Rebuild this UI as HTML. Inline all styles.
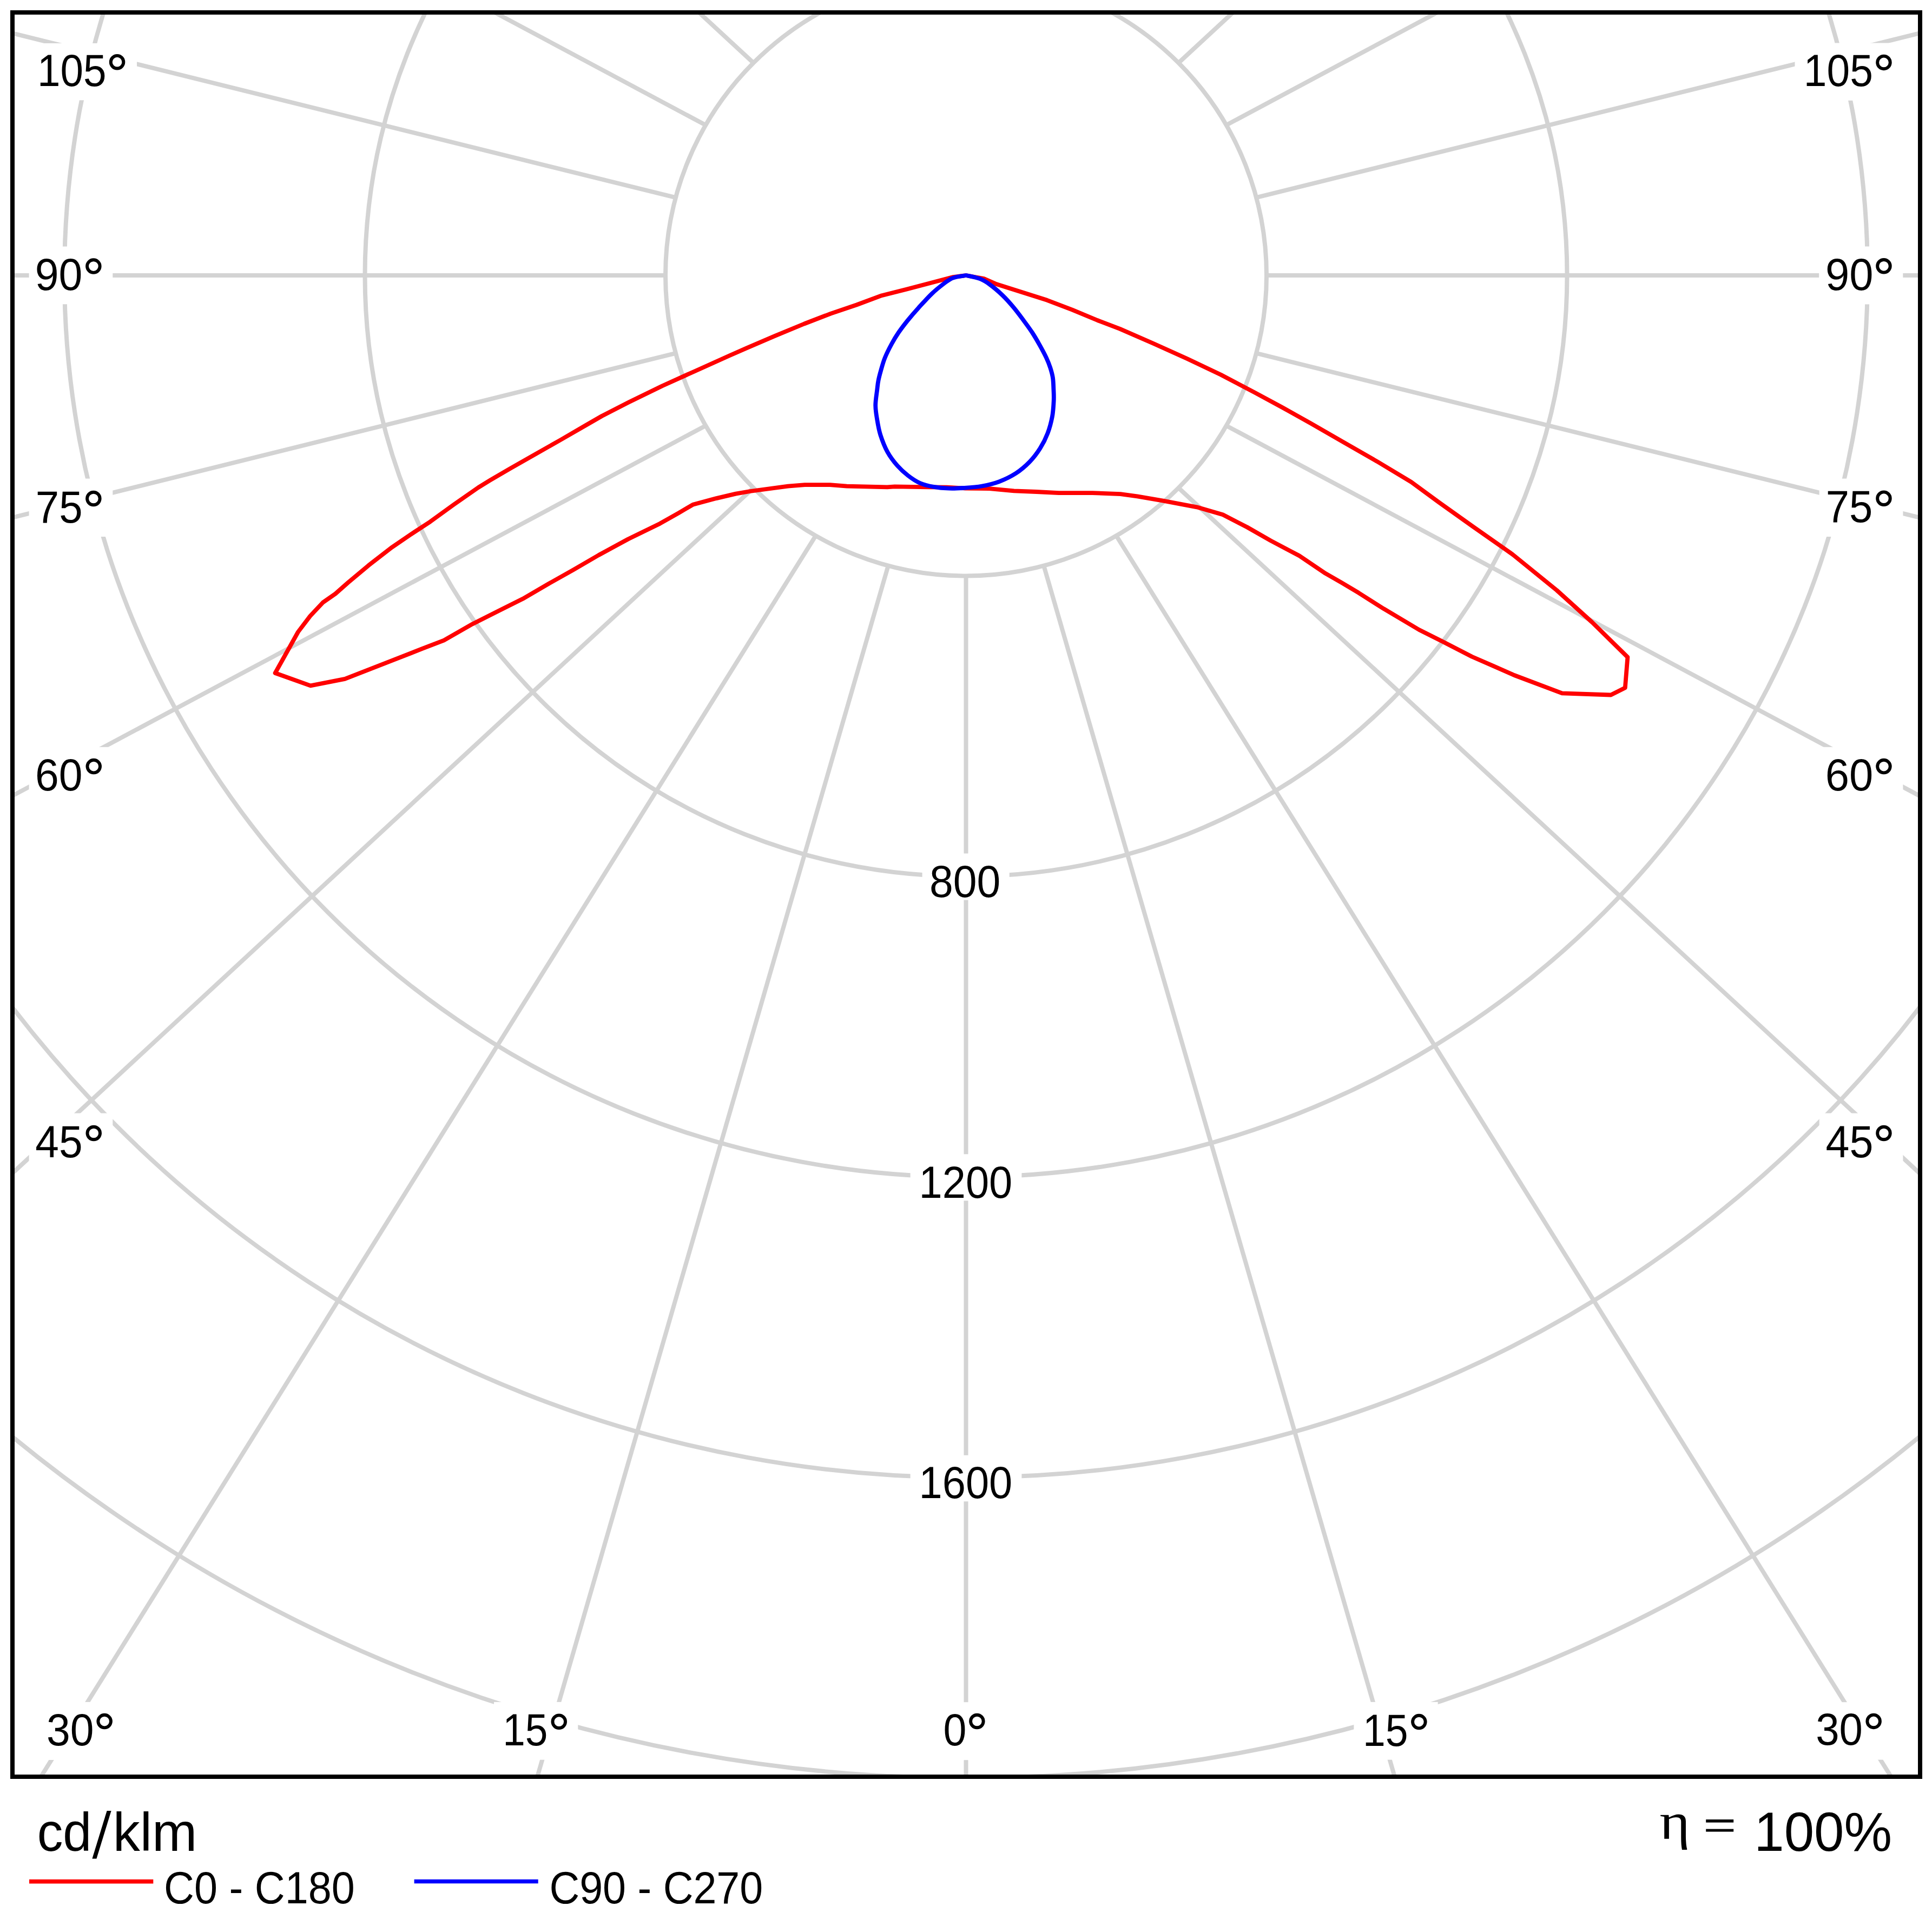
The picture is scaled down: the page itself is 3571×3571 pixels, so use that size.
<!DOCTYPE html><html><head><meta charset="utf-8"><style>html,body{margin:0;padding:0;background:#fff;overflow:hidden}svg{display:block}text{fill:#000}</style></head><body>
<svg width="3571" height="3571" viewBox="0 0 3571 3571">
<rect x="0" y="0" width="3571" height="3571" fill="#fff"/>
<defs><clipPath id="c"><rect x="27" y="27" width="3518" height="3254"/></clipPath></defs>
<g clip-path="url(#c)" fill="none" stroke="#d3d3d3" stroke-width="8">
<line x1="1785.50" y1="1064.50" x2="1785.50" y2="5688.50"/>
<line x1="1929.27" y1="1045.57" x2="3223.37" y2="5512.01"/>
<line x1="1641.73" y1="1045.57" x2="347.63" y2="5512.01"/>
<line x1="2063.25" y1="990.08" x2="4563.25" y2="4994.58"/>
<line x1="1507.75" y1="990.08" x2="-992.25" y2="4994.58"/>
<line x1="2178.30" y1="901.80" x2="5713.83" y2="4171.46"/>
<line x1="1392.70" y1="901.80" x2="-2142.83" y2="4171.46"/>
<line x1="2266.58" y1="786.75" x2="6596.70" y2="3098.75"/>
<line x1="1304.42" y1="786.75" x2="-3025.70" y2="3098.75"/>
<line x1="2322.07" y1="652.77" x2="7151.70" y2="1849.55"/>
<line x1="1248.93" y1="652.77" x2="-3580.70" y2="1849.55"/>
<line x1="2341.00" y1="509.00" x2="7341.00" y2="509.00"/>
<line x1="1230.00" y1="509.00" x2="-3770.00" y2="509.00"/>
<line x1="2322.07" y1="365.23" x2="7151.70" y2="-831.55"/>
<line x1="1248.93" y1="365.23" x2="-3580.70" y2="-831.55"/>
<line x1="2266.58" y1="231.25" x2="6596.70" y2="-2080.75"/>
<line x1="1304.42" y1="231.25" x2="-3025.70" y2="-2080.75"/>
<line x1="2178.30" y1="116.20" x2="5713.83" y2="-3153.46"/>
<line x1="1392.70" y1="116.20" x2="-2142.83" y2="-3153.46"/>
<circle cx="1785.5" cy="509.0" r="555.50"/>
<circle cx="1785.5" cy="509.0" r="1111.00"/>
<circle cx="1785.5" cy="509.0" r="1666.50"/>
<circle cx="1785.5" cy="509.0" r="2222.00"/>
<circle cx="1785.5" cy="509.0" r="2777.50"/>
</g>
<g fill="#fff">
<rect x="53.6" y="80.0" width="199.4" height="105.3"/>
<rect x="53.6" y="455.6" width="154.7" height="106.7"/>
<rect x="53.6" y="884.6" width="154.7" height="107.4"/>
<rect x="53.6" y="1380.8" width="154.7" height="107.2"/>
<rect x="53.6" y="2057.6" width="154.7" height="107.0"/>
<rect x="74.2" y="3145.9" width="154.7" height="107.1"/>
<rect x="913.0" y="3145.9" width="155.3" height="106.8"/>
<rect x="1730.0" y="3146.2" width="111.0" height="107.0"/>
<rect x="2502.4" y="3145.9" width="155.3" height="106.7"/>
<rect x="3343.7" y="3146.2" width="154.7" height="106.4"/>
<rect x="3317.5" y="79.5" width="199.9" height="106.3"/>
<rect x="3362.2" y="455.5" width="155.1" height="107.0"/>
<rect x="3362.7" y="884.6" width="154.7" height="107.4"/>
<rect x="3362.7" y="1380.8" width="154.7" height="107.2"/>
<rect x="3362.7" y="2057.6" width="154.7" height="107.0"/>
<rect x="1704.6" y="1577.5" width="161.1" height="86.0"/>
<rect x="1682.6" y="2133.3" width="205.8" height="86.0"/>
<rect x="1682.6" y="2689.8" width="205.8" height="85.4"/>
</g>
<polygon fill="none" stroke="#ff0000" stroke-width="7.8" stroke-linejoin="round" points="1785.5,509.0 1761.7,512.1 1722.9,522.2 1676.3,534.6 1629.8,546.2 1583.2,563.5 1535.6,579.6 1486.5,598.5 1431.8,621.1 1380.0,643.3 1348.4,657.3 1286.3,685.2 1224.2,713.2 1162.1,743.5 1112.4,769.0 1082.9,786.0 1036.3,813.0 989.8,839.4 943.2,865.8 905.9,887.7 884.0,901.1 838.8,932.6 795.3,964.2 759.0,988.0 722.8,1012.8 681.4,1044.9 643.1,1077.0 619.9,1097.5 596.6,1113.8 573.3,1138.6 551.0,1168.0 508.6,1244.0 573.9,1267.3 637.5,1254.8 729.1,1219.1 780.0,1199.2 820.4,1183.6 873.2,1153.4 919.8,1130.1 966.3,1106.8 1012.9,1079.6 1060.0,1053.1 1106.6,1026.0 1160.9,996.5 1219.9,967.7 1254.1,948.3 1280.5,932.8 1324.0,921.1 1360.0,912.6 1386.6,908.0 1456.5,898.7 1487.5,896.1 1534.1,896.1 1565.2,898.7 1640.0,900.3 1653.7,899.4 1715.8,900.4 1750.0,900.7 1784.0,902.5 1828.7,903.2 1874.2,907.3 1915.6,909.0 1957.0,911.1 2019.2,911.1 2070.9,913.1 2102.0,917.3 2150.0,925.6 2212.1,937.3 2260.2,951.2 2305.3,974.5 2348.8,999.4 2401.6,1027.3 2450.0,1059.9 2480.0,1077.1 2511.1,1095.7 2557.6,1125.2 2622.9,1164.0 2666.3,1185.8 2720.7,1213.7 2760.0,1230.9 2798.8,1248.0 2887.3,1281.4 2977.4,1284.5 3003.8,1271.3 3008.4,1214.6 2942.6,1150.0 2877.4,1091.0 2795.1,1024.2 2722.1,973.0 2660.0,928.8 2608.4,890.8 2546.3,853.5 2484.2,817.8 2422.1,782.1 2370.0,753.0 2318.4,725.1 2256.3,692.5 2194.2,663.0 2132.1,635.0 2070.0,607.9 2028.4,592.0 1981.9,572.6 1935.3,554.8 1888.7,540.0 1842.1,525.3 1818.8,515.2"/>
<path fill="none" stroke="#0000ff" stroke-width="7.8" stroke-linejoin="round" d="M1785.5,509.0 C1789.8,510.0 1803.6,512.4 1811.0,515.2 C1818.4,518.0 1822.7,520.9 1829.7,526.0 C1836.7,531.1 1845.5,538.6 1852.8,545.6 C1860.1,552.6 1866.8,560.2 1873.3,568.0 C1879.8,575.8 1886.2,584.5 1891.9,592.2 C1897.7,600.0 1902.8,606.9 1907.8,614.5 C1912.8,622.1 1917.3,630.0 1921.7,637.8 C1926.1,645.6 1930.6,654.1 1933.9,661.1 C1937.2,668.1 1939.3,673.6 1941.3,679.8 C1943.3,686.0 1945.0,691.7 1946.0,698.4 C1947.0,705.1 1947.1,713.0 1947.4,720.0 C1947.7,727.0 1948.1,732.3 1947.7,740.6 C1947.3,748.9 1946.8,760.0 1944.9,770.0 C1943.0,780.0 1940.2,790.9 1936.5,800.7 C1932.8,810.5 1928.1,819.9 1922.5,828.7 C1916.9,837.6 1910.5,846.1 1903.0,853.8 C1895.5,861.5 1887.1,868.8 1877.8,874.8 C1868.5,880.8 1857.6,886.1 1847.1,890.1 C1836.6,894.1 1826.1,896.5 1814.9,898.5 C1803.7,900.5 1790.2,901.3 1780.0,902.0 C1769.8,902.7 1762.7,903.1 1753.7,902.7 C1744.7,902.4 1734.7,901.5 1725.8,899.9 C1716.9,898.3 1708.5,896.5 1700.6,893.0 C1692.7,889.5 1685.3,884.4 1678.3,879.0 C1671.3,873.6 1665.0,868.0 1658.7,860.8 C1652.4,853.6 1645.8,845.1 1640.5,835.6 C1635.2,826.1 1630.5,813.7 1627.2,803.5 C1624.0,793.3 1622.5,783.3 1621.0,774.2 C1619.5,765.1 1618.2,758.0 1618.2,749.0 C1618.2,740.0 1620.4,727.7 1621.3,720.0 C1622.2,712.3 1622.4,708.9 1623.6,703.0 C1624.8,697.1 1626.3,691.4 1628.3,684.4 C1630.3,677.4 1632.4,669.2 1635.7,661.1 C1639.0,653.0 1643.7,643.8 1647.9,636.0 C1652.1,628.2 1655.9,621.8 1660.9,614.5 C1665.9,607.2 1671.7,599.7 1677.7,592.2 C1683.7,584.8 1689.5,578.0 1697.0,569.8 C1704.5,561.6 1714.2,550.6 1722.4,542.8 C1730.6,535.0 1739.7,527.9 1746.2,523.0 C1752.8,518.1 1755.2,515.9 1761.7,513.6 C1768.2,511.3 1781.5,509.8 1785.5,509.0 Z"/>
<text transform="translate(69.09,158.70) scale(0.9098,1)" font-size="84" style="font-family:'Liberation Sans',sans-serif">105</text>
<circle cx="216.55" cy="114.70" r="11.80" fill="none" stroke="#000" stroke-width="5.90"/>
<text transform="translate(64.75,536.10) scale(0.9380,1)" font-size="84" style="font-family:'Liberation Sans',sans-serif">90</text>
<circle cx="172.85" cy="492.10" r="11.80" fill="none" stroke="#000" stroke-width="5.90"/>
<text transform="translate(65.85,965.50) scale(0.9283,1)" font-size="84" style="font-family:'Liberation Sans',sans-serif">75</text>
<circle cx="172.85" cy="921.50" r="11.80" fill="none" stroke="#000" stroke-width="5.90"/>
<text transform="translate(64.92,1460.60) scale(0.9360,1)" font-size="84" style="font-family:'Liberation Sans',sans-serif">60</text>
<circle cx="173.25" cy="1416.60" r="11.80" fill="none" stroke="#000" stroke-width="5.90"/>
<text transform="translate(65.33,2138.50) scale(0.9341,1)" font-size="84" style="font-family:'Liberation Sans',sans-serif">45</text>
<circle cx="173.25" cy="2094.50" r="11.80" fill="none" stroke="#000" stroke-width="5.90"/>
<text transform="translate(86.06,3225.60) scale(0.9368,1)" font-size="84" style="font-family:'Liberation Sans',sans-serif">30</text>
<circle cx="193.15" cy="3181.60" r="11.80" fill="none" stroke="#000" stroke-width="5.90"/>
<text transform="translate(929.21,3226.20) scale(0.8910,1)" font-size="84" style="font-family:'Liberation Sans',sans-serif">15</text>
<circle cx="1033.25" cy="3182.20" r="11.80" fill="none" stroke="#000" stroke-width="5.90"/>
<text transform="translate(1743.61,3225.50) scale(0.9193,1)" font-size="84" style="font-family:'Liberation Sans',sans-serif">0</text>
<circle cx="1805.85" cy="3181.50" r="11.80" fill="none" stroke="#000" stroke-width="5.90"/>
<text transform="translate(2518.99,3226.60) scale(0.8946,1)" font-size="84" style="font-family:'Liberation Sans',sans-serif">15</text>
<circle cx="2622.85" cy="3182.60" r="11.80" fill="none" stroke="#000" stroke-width="5.90"/>
<text transform="translate(3356.18,3225.40) scale(0.9287,1)" font-size="84" style="font-family:'Liberation Sans',sans-serif">30</text>
<circle cx="3463.15" cy="3181.40" r="11.80" fill="none" stroke="#000" stroke-width="5.90"/>
<text transform="translate(3333.76,159.40) scale(0.9144,1)" font-size="84" style="font-family:'Liberation Sans',sans-serif">105</text>
<circle cx="3481.95" cy="115.40" r="11.80" fill="none" stroke="#000" stroke-width="5.90"/>
<text transform="translate(3374.01,535.80) scale(0.9472,1)" font-size="84" style="font-family:'Liberation Sans',sans-serif">90</text>
<circle cx="3481.95" cy="491.80" r="11.80" fill="none" stroke="#000" stroke-width="5.90"/>
<text transform="translate(3374.76,965.20) scale(0.9259,1)" font-size="84" style="font-family:'Liberation Sans',sans-serif">75</text>
<circle cx="3481.95" cy="921.20" r="11.80" fill="none" stroke="#000" stroke-width="5.90"/>
<text transform="translate(3373.77,1460.60) scale(0.9477,1)" font-size="84" style="font-family:'Liberation Sans',sans-serif">60</text>
<circle cx="3481.95" cy="1416.60" r="11.80" fill="none" stroke="#000" stroke-width="5.90"/>
<text transform="translate(3374.62,2138.50) scale(0.9409,1)" font-size="84" style="font-family:'Liberation Sans',sans-serif">45</text>
<circle cx="3481.95" cy="2094.50" r="11.80" fill="none" stroke="#000" stroke-width="5.90"/>
<text transform="translate(1717.99,1658.00) scale(0.9366,1)" font-size="84" style="font-family:'Liberation Sans',sans-serif">800</text>
<text transform="translate(1698.60,2214.20) scale(0.9236,1)" font-size="84" style="font-family:'Liberation Sans',sans-serif">1200</text>
<text transform="translate(1698.60,2769.30) scale(0.9236,1)" font-size="84" style="font-family:'Liberation Sans',sans-serif">1600</text>
<rect x="23" y="23" width="3526" height="3261" fill="none" stroke="#000" stroke-width="8"/>
<text transform="translate(68.65,3421.10) scale(0.9526,1)" font-size="100" style="font-family:'Liberation Sans',sans-serif">cd</text>
<text transform="translate(208.85,3421.10) scale(0.9996,1)" font-size="100" style="font-family:'Liberation Sans',sans-serif">klm</text>
<polygon points="170.4,3435.6 178.4,3435.6 205.6,3347 197.6,3347" fill="#000"/>
<line x1="54" y1="3477.7" x2="283.3" y2="3477.7" stroke="#ff0000" stroke-width="7.7"/>
<line x1="765.6" y1="3477.5" x2="994.7" y2="3477.5" stroke="#0000ff" stroke-width="7.7"/>
<text transform="translate(303.08,3517.80) scale(0.9214,1)" font-size="84" style="font-family:'Liberation Sans',sans-serif">C0 - C180</text>
<text transform="translate(1015.39,3517.80) scale(0.9194,1)" font-size="84" style="font-family:'Liberation Sans',sans-serif">C90 - C270</text>
<text transform="translate(3067.50,3399.40) scale(1.1329,1)" font-size="95" style="font-family:'Liberation Serif',serif">η</text>
<rect x="3153.2" y="3363" width="51" height="5.6" fill="#000"/>
<rect x="3153.2" y="3380.6" width="51" height="5" fill="#000"/>
<text transform="translate(3242.23,3420.80) scale(0.9768,1)" font-size="102" style="font-family:'Liberation Sans',sans-serif">100%</text>
</svg></body></html>
